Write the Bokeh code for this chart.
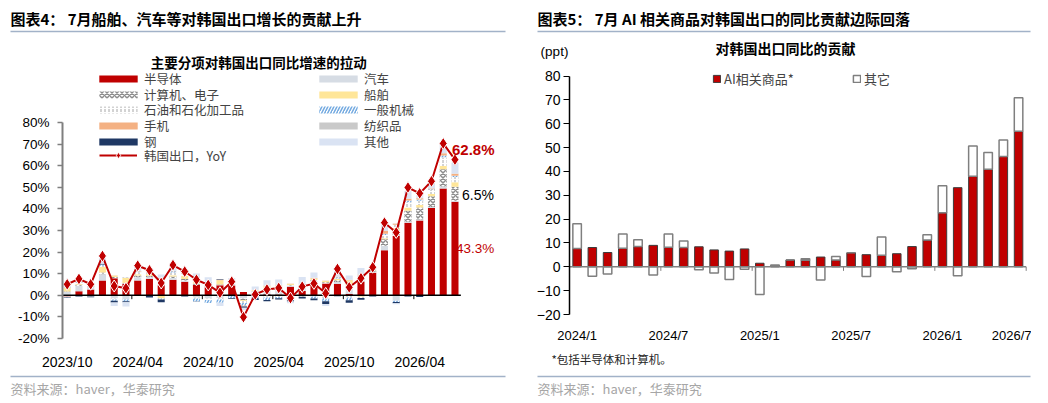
import numpy as np
from bokeh.plotting import figure
from bokeh.models import (ColumnDataSource, Range1d, FixedTicker, Legend, LegendItem,
                          Label, BoxAnnotation, PrintfTickFormatter)
from bokeh.layouts import row, column
from bokeh.embed import file_html
from bokeh.resources import INLINE

CJK = "Noto Sans CJK SC"
LAT = "Liberation Sans"
RED = "#c00000"
RULE = "#a2b2c8"

# ---- left chart: contributions to Korea export growth (%) ----
months_l = ["2023/10", "2023/11", "2023/12", "2024/01", "2024/02", "2024/03", "2024/04",
            "2024/05", "2024/06", "2024/07", "2024/08", "2024/09", "2024/10", "2024/11",
            "2024/12", "2025/01", "2025/02", "2025/03", "2025/04", "2025/05", "2025/06",
            "2025/07", "2025/08", "2025/09", "2025/10", "2025/11", "2025/12", "2026/01",
            "2026/02", "2026/03", "2026/04", "2026/05", "2026/06", "2026/07"]
ticks_l = ["2023/10", "2024/04", "2024/10", "2025/04", "2025/10", "2026/04"]

yoy = [5.1, 7.6, 5.1, 18.2, 4.3, 3.3, 13.7, 11.6, 5.7, 14.0, 11.0, 7.2, 4.8, 1.2, 6.3,
       -10.1, 0.4, 2.7, 3.4, -1.3, 4.0, 5.5, 0.9, 12.2, 3.7, 7.9, 13.0, 33.6, 29.1,
       49.9, 47.2, 52.8, 70.3, 62.8]
semi = [-0.5, 1.9, 2.7, 6.9, 7.9, 5.2, 6.9, 7.5, 4.6, 7.2, 6.3, 4.9, 3.7, 4.6, 4.5,
        1.5, 0.3, 0.5, 0.4, 4.0, 2.0, 5.0, 5.5, 5.2, 0.6, 6.4, 10.4, 20.9, 27.6,
        33.6, 34.6, 40.4, 49.4, 43.3]
auto = [1.5, 2.5, 1.2, 2.8, -1.5, -2.0, 1.5, 0.8, 1.4, 0.8, 0.5, -1.0, -1.5, -1.2, 1.0,
        -1.5, 1.5, 2.5, 2.8, 0.5, 1.5, 1.5, -0.5, 1.0, 2.5, 1.5, 0.3, 2.0, -2.5,
        0.5, 0.5, 0.5, 1.0, 0.5]
comp = [0.3, 0.5, 0.4, 0.8, 0.6, 0.5, 0.8, 0.6, 0.5, 0.7, 0.8, 0.6, 0.6, 0.4, 0.3,
        -0.8, 0.3, 0.4, 0.3, 0.3, 0.5, 0.6, 0.5, 0.8, 0.4, 0.8, 0.8, 3.0, 2.5,
        5.0, 5.5, 5.0, 8.0, 6.5]
ship = [1.8, 0.3, 0.2, 2.6, 0.6, 2.3, 0.5, 0.8, -1.5, 0.6, 1.5, 1.0, 0.7, 2.0, 0.5,
        -0.3, 0.3, 0.8, 1.0, 0.4, 0.8, 0.7, 0.6, 0.5, 3.5, -0.7, 0.3, 0.5, 1.0,
        1.5, 1.2, 1.0, 1.5, 2.0]
petro = [-0.5, 0.5, -0.6, 0.6, -0.4, 0.3, 1.0, 1.2, 1.3, 1.2, 0.8, -0.5, -0.7, -0.8, -0.3,
         -1.0, -0.6, -1.0, -0.8, -1.2, -0.7, -0.5, -0.9, 0.3, -1.0, -0.5, 0.2, 1.5, 1.5,
         2.5, 2.0, 1.8, 4.0, 2.5]
mach = [0.2, 0.3, 0.2, 0.5, -0.6, -0.8, 0.3, 0.2, -0.5, 0.6, -0.2, -1.2, -1.4, -1.5, -1.0,
        -1.2, -0.8, -1.2, -0.6, -0.5, 0.5, -1.0, -1.3, 0.5, -1.3, 0.5, 0.3, 0.6, -0.6,
        0.8, 0.6, 0.4, 0.8, 0.5]
phone = [0.2, 0.2, 0.1, -0.3, 0.1, 0.1, 0.2, 0.1, 0.2, 0.2, 0.5, 0.8, 0.3, 0.2, 0.2,
         -0.3, 0.1, 0.2, 0.2, 0.1, 0.1, 0.2, 0.1, 0.3, 0.1, 0.3, 0.2, 1.3, 0.5,
         0.8, 0.5, 0.3, 1.0, 1.0]
textile = [0.1, 0.1, 0.1, 0.1, 0.0, 0.1, 0.1, 0.1, 0.1, 0.1, 0.1, 0.1, 0.1, 0.1, 0.1,
           -0.1, 0.1, 0.1, 0.1, 0.1, 0.1, 0.1, -0.1, 0.1, 0.1, 0.1, 0.1, 0.2, 0.1,
           0.1, 0.1, 0.1, 0.1, 0.1]
steel = [-0.3, -0.5, -0.3, 0.3, -0.8, -0.4, -0.2, -1.0, -1.2, -0.2, -0.3, -0.2, 0.5, 0.3, -0.3,
         -0.6, -0.8, -0.6, -0.5, -1.2, -0.8, -0.8, -1.2, -0.4, -1.2, -0.9, -0.5, -0.3, -0.6,
         -0.6, -0.8, -0.3, -0.3, -0.3]
other = [1.8, 1.0, 1.2, 3.0, -1.6, -2.0, 2.6, 1.3, 1.5, 3.0, 1.3, 2.7, 2.5, -1.5, 1.4,
         -1.0, 1.5, 2.5, 2.5, -0.8, 3.0, 2.5, -1.0, 3.0, 2.0, 3.0, 0.5, 2.5, -0.5,
         3.5, 3.0, 2.5, 4.0, 5.0]

# ---- right chart: AI goods contribution (ppt) ----
months_r = ["2024/1", "2024/2", "2024/3", "2024/4", "2024/5", "2024/6", "2024/7", "2024/8",
            "2024/9", "2024/10", "2024/11", "2024/12", "2025/1", "2025/2", "2025/3", "2025/4",
            "2025/5", "2025/6", "2025/7", "2025/8", "2025/9", "2025/10", "2025/11", "2025/12",
            "2026/1", "2026/2", "2026/3", "2026/4", "2026/5", "2026/6"]
ticks_r = ["2024/1", "2024/7", "2025/1", "2025/7", "2026/1"]
tick_end_r = "2026/7"   # half cut off at the right edge, as in the source
ai = [7.7, 8.1, 6.0, 7.8, 8.5, 9.0, 8.2, 8.1, 8.4, 7.1, 6.6, 7.5, 1.5, 0.2, 2.9, 2.8,
      4.1, 2.9, 5.9, 5.1, 4.8, 5.5, 8.5, 11.2, 22.7, 33.2, 38.0, 40.9, 46.3, 56.9]
rest = [10.4, -4.0, -3.0, 6.0, 2.9, -3.4, 5.6, 2.7, -1.2, -2.6, -5.3, -1.0, -11.6, 0.6, 0.0,
        0.6, -5.5, 1.4, 0.0, -4.1, 7.7, -2.1, -0.8, 2.3, 11.3, -3.7, 12.7, 7.0, 6.9, 14.0]


def band(width, height):
    # text strip: data units equal pixels, y measured from the top
    p = figure(width=width, height=height, x_range=Range1d(0, width), y_range=Range1d(height, 0),
               output_backend="svg", toolbar_location=None, x_axis_type=None, y_axis_type=None,
               min_border=0, frame_align=False)
    p.outline_line_color = None
    return p


def text(p, x, y, s, size, color="black", bold=False, font=CJK, align="left"):
    p.add_layout(Label(x=x, y=y, text=s, text_font=font, text_font_size=f"{size}px",
                       text_color=color, text_font_style="bold" if bold else "normal",
                       text_align=align, text_baseline="middle"))


def rule(p, x0, x1, y):
    p.add_layout(BoxAnnotation(left=x0, right=x1, top=y - 0.75, bottom=y + 0.75,
                               fill_color=RULE, fill_alpha=1, line_color=None))


def style_axes(p):
    for ax in (p.xaxis[0], p.yaxis[0]):
        ax.major_label_text_font = LAT
        ax.major_label_text_color = "black"
        ax.minor_tick_line_color = None
    p.xaxis.axis_line_color = None
    p.xaxis.major_tick_line_color = None
    p.xgrid.grid_line_color = None
    p.ygrid.grid_line_color = None
    p.outline_line_color = None


# ================= left panel =================
h1 = band(525, 40)
text(h1, 10, 18, "图表4：  7月船舶、汽车等对韩国出口增长的贡献上升", 15, bold=True)
rule(h1, 10, 505, 31)

n = len(months_l)
xl = list(range(n))
p1 = figure(width=525, height=332, output_backend="svg", toolbar_location=None,
            x_range=Range1d(-0.4, 37.3), y_range=Range1d(-20, 117.95), frame_align=False,
            min_border_left=62, min_border_right=20, min_border_top=0, min_border_bottom=26)
style_axes(p1)
p1.yaxis.ticker = FixedTicker(ticks=list(range(-20, 81, 10)))
p1.yaxis.formatter = PrintfTickFormatter(format="%d%%")
p1.yaxis.bounds = (-20, 80)
p1.yaxis.axis_line_color = "#7f7f7f"
p1.yaxis.axis_line_width = 2
p1.yaxis.major_tick_line_color = "#7f7f7f"
p1.yaxis.major_tick_line_width = 1.5
p1.yaxis.major_tick_in = 0
p1.yaxis.major_tick_out = 5
p1.yaxis.major_label_standoff = 8
p1.yaxis.major_label_text_font_size = "13.5px"
p1.xaxis.ticker = FixedTicker(ticks=[months_l.index(t) for t in ticks_l])
p1.xaxis.major_label_overrides = {months_l.index(t): t for t in ticks_l}
p1.xaxis.major_label_standoff = 9
p1.xaxis.major_label_text_font_size = "14px"

# chart subtitle, placed in the empty space above the 80% tick
p1.add_layout(Label(x=16.3, y=108.2, text="主要分项对韩国出口同比增速的拉动", text_font=CJK,
                    text_font_size="13.5px", text_font_style="bold", text_color="black",
                    text_align="center", text_baseline="middle"))

series = [
    ("半导体", semi, dict(fill_color=RED)),
    ("汽车", auto, dict(fill_color="#d6dce4")),
    ("计算机、电子", comp, dict(fill_color="white", hatch_pattern="x", hatch_color="#8c8c8c",
                              hatch_scale=5, hatch_weight=1.5)),
    ("船舶", ship, dict(fill_color="#ffe699")),
    ("石油和石化加工品", petro, dict(fill_color="white", hatch_pattern=":", hatch_color="#a6a6a6",
                                 hatch_scale=4, hatch_weight=1)),
    ("一般机械", mach, dict(fill_color="white", hatch_pattern="/", hatch_color="#72a9e0",
                          hatch_scale=6, hatch_weight=1.5)),
    ("手机", phone, dict(fill_color="#f4b183")),
    ("纺织品", textile, dict(fill_color="#c9c9c9")),
    ("钢", steel, dict(fill_color="#1f3864")),
    ("其他", other, dict(fill_color="#dae3f3")),
]
pos = np.zeros(n)
neg = np.zeros(n)
rends = {}
for name, vals, style in series:
    v = np.array(vals, dtype=float)
    bottom = np.where(v >= 0, pos, neg + v)
    top = np.where(v >= 0, pos + v, neg)
    pos = np.where(v >= 0, pos + v, pos)
    neg = np.where(v < 0, neg + v, neg)
    src = ColumnDataSource(dict(x=xl, bottom=bottom, top=top))
    rends[name] = p1.vbar(x="x", bottom="bottom", top="top", width=0.6, source=src,
                          line_color=None, **style)

# zero line with small boundary ticks every six months
p1.segment(x0=-0.4, y0=0, x1=n - 0.5, y1=0, line_color="black", line_width=1.5)
bl = [months_l.index(t) - 0.5 for t in ticks_l[1:]]
p1.segment(x0=bl, y0=[0] * len(bl), x1=bl, y1=[-1.8] * len(bl), line_color="black", line_width=1)

ln = p1.line(xl, yoy, line_color=RED, line_width=2)
mk = p1.scatter(xl, yoy, marker="diamond", size=12, fill_color=RED,
                line_color="white", line_width=1)

legend_rows = [("半导体", "汽车"), ("计算机、电子", "船舶"), ("石油和石化加工品", "一般机械"),
               ("手机", "纺织品"), ("钢", "其他")]
for i, pair in enumerate(legend_rows):
    centre = 78.7 + 15.6 * i
    lg = Legend(items=[LegendItem(label=k, renderers=[rends[k]]) for k in pair],
                orientation="horizontal", location=(32, 346 - centre - 18),
                glyph_width=48, glyph_height=9, label_height=20, label_width=165,
                label_standoff=2, spacing=5, padding=0, margin=0,
                label_text_font=CJK, label_text_font_size="12.5px",
                border_line_color=None, background_fill_alpha=0)
    p1.add_layout(lg, "center")
centre = 78.7 + 15.6 * 5
lg = Legend(items=[LegendItem(label="韩国出口，YoY", renderers=[ln, mk])],
            orientation="horizontal", location=(37, 346 - centre - 16.7),
            glyph_width=38, glyph_height=16, label_height=20,
            label_standoff=7, spacing=5, padding=0, margin=0,
            label_text_font=CJK, label_text_font_size="12.5px",
            border_line_color=None, background_fill_alpha=0)
p1.add_layout(lg, "center")

last = n - 1
p1.add_layout(Label(x=last, y=yoy[last], x_offset=-3, y_offset=10, text="62.8%",
                    text_font=LAT, text_font_size="15px", text_font_style="bold",
                    text_color=RED, text_baseline="middle"))
p1.add_layout(Label(x=last, y=semi[last] + comp[last] / 2, x_offset=7, text="6.5%",
                    text_font=LAT, text_font_size="14px", text_color="black",
                    text_baseline="middle"))
p1.add_layout(Label(x=last, y=semi[last] / 2, x_offset=1, text="43.3%",
                    text_font=LAT, text_font_size="13.5px", text_color=RED,
                    text_baseline="middle"))

f1 = band(525, 31)
rule(f1, 10, 505, 4)
text(f1, 10, 16, "资料来源：haver，华泰研究", 13, color="#a6a6a6")

# ================= right panel =================
h2 = band(506, 62)
text(h2, 12, 18, "图表5：  7月 AI 相关商品对韩国出口的同比贡献边际回落", 15, bold=True)
rule(h2, 12, 505, 31)
text(h2, 260, 47, "对韩国出口同比的贡献", 14, bold=True, align="center")
text(h2, 29, 51, "(ppt)", 13.5, font=LAT, align="center")

m = len(months_r)
xr = list(range(m))
ai_a = np.array(ai)
rest_a = np.array(rest)
src_ai = ColumnDataSource(dict(x=xr, top=ai_a))
src_rest = ColumnDataSource(dict(x=xr,
                                 bottom=np.where(rest_a >= 0, ai_a, rest_a),
                                 top=np.where(rest_a >= 0, ai_a + rest_a, 0)))
x_end_r = m - 0.15
p2 = figure(width=506, height=283, output_backend="svg", toolbar_location=None,
            x_range=Range1d(-0.5, x_end_r), y_range=Range1d(-20, 85.7), frame_align=False,
            min_border_left=44, min_border_right=0, min_border_top=0, min_border_bottom=28)
style_axes(p2)
p2.yaxis.ticker = FixedTicker(ticks=list(range(-20, 81, 10)))
p2.yaxis.bounds = (-20, 80)
p2.yaxis.axis_line_color = "black"
p2.yaxis.axis_line_width = 1.5
p2.yaxis.major_tick_line_color = "black"
p2.yaxis.major_tick_line_width = 1.2
p2.yaxis.major_tick_in = 0
p2.yaxis.major_tick_out = 6
p2.yaxis.major_label_standoff = 3
p2.yaxis.major_label_text_font_size = "14px"
xt = [months_r.index(t) for t in ticks_r] + [x_end_r - 0.02]
p2.xaxis.ticker = FixedTicker(ticks=xt)
p2.xaxis.major_label_overrides = dict(zip(xt, ticks_r + [tick_end_r]))
p2.xaxis.major_label_standoff = 7
p2.xaxis.major_label_text_font_size = "13px"

r_ai = p2.vbar(x="x", bottom=0, top="top", width=0.56, source=src_ai,
               fill_color=RED, line_color="#3c3c3c", line_width=1)
r_rest = p2.vbar(x="x", bottom="bottom", top="top", width=0.56, source=src_rest,
                 fill_color="white", line_color="#7f7f7f", line_width=1.5)
p2.segment(x0=-0.5, y0=0, x1=m - 0.5, y1=0, line_color="#808080", line_width=1.5)
br = [i - 0.5 for i in range(6, m + 1, 6)]
p2.segment(x0=br, y0=[0] * len(br), x1=br, y1=[-1.7] * len(br), line_color="#808080", line_width=1)

leg2 = Legend(items=[LegendItem(label="AI相关商品*", renderers=[r_ai]),
                     LegendItem(label="其它", renderers=[r_rest])],
              orientation="horizontal", location=(143, 226),
              glyph_width=9, glyph_height=9, label_height=20, label_width=116,
              label_standoff=3, spacing=12, padding=0, margin=0,
              label_text_font=CJK, label_text_font_size="13px",
              border_line_color=None, background_fill_alpha=0)
p2.add_layout(leg2, "center")

f2 = band(506, 58)
text(f2, 26, 13, "*包括半导体和计算机。", 11.5, color="#262626")
rule(f2, 12, 505, 31)
text(f2, 12, 43, "资料来源：haver，华泰研究", 13, color="#a6a6a6")

layout = row(column(h1, p1, f1), column(h2, p2, f2))
open("out.html", "w").write(file_html(layout, INLINE))
